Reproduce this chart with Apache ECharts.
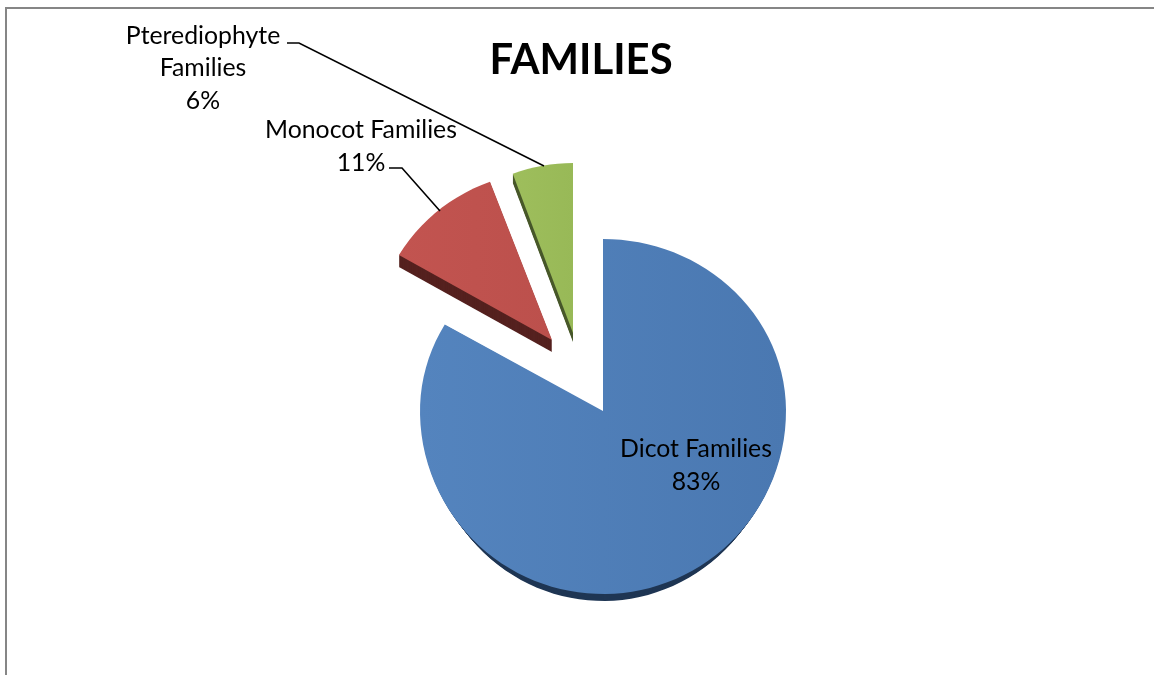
<!DOCTYPE html>
<html>
<head>
<meta charset="utf-8">
<style>html,body{margin:0;padding:0;background:#fff}#chart{width:1154px;height:675px}</style>
<script src="https://cdn.jsdelivr.net/npm/echarts@6/dist/echarts.min.js"></script>
</head>
<body>
<div id="chart"></div>
<script>
const categories = ['Dicot Families', 'Monocot Families', 'Pterediophyte\nFamilies'];
const shares = [83, 11, 6];

// Tilted pie geometry: each wedge has its own apex once pulled out of the pie.
const wedges = [
  { apex: [603, 411], rx: 183, top: 172, bottom: 183, depth: 7, taper: 1,
    face: ['#5484BE', '#4A78B1'], side: '#1F3654',
    label: [696, 465.5], leader: null },
  { apex: [552, 340], rx: 177, top: 169, bottom: 175, depth: 12, taper: 0,
    face: ['#C25450', '#BC504C'], side: '#55211F',
    label: [361, 146.5], leader: [[389, 168], [402, 168], [440, 211]] },
  { apex: [573, 333], rx: 172, top: 170, bottom: 170, depth: 9, taper: 0,
    face: ['#9EBE5C', '#98B957'], side: '#48582A',
    label: [203, 68.5], leader: [[287, 43], [299, 43], [544, 166]] }
];

// Viewing the disc at a tilt pulls the apparent angles slightly toward the vertical axis.
const TILT_SKEW = 0.028;
const total = shares.reduce((a, b) => a + b, 0);

function wedgeOutline(w, from, to, dy) {
  const pts = [[w.apex[0], w.apex[1] + dy]];
  const steps = Math.max(8, Math.round((to - from) * 120));
  const rx = w.rx - dy * w.taper;
  for (let i = 0; i <= steps; i++) {
    const a = (from + (to - from) * i / steps) * Math.PI * 2;
    const t = a - TILT_SKEW * Math.sin(2 * a);
    const c = Math.cos(t);
    pts.push([
      w.apex[0] + rx * Math.sin(t),
      w.apex[1] - (c > 0 ? w.top : w.bottom) * c + dy
    ]);
  }
  return pts;
}

function renderWedge(params, api) {
  const i = params.dataIndex;
  const w = wedges[i];
  let before = 0;
  for (let k = 0; k < i; k++) before += shares[k];
  const from = before / total;
  const to = (before + api.value(0)) / total;
  const children = [];
  for (let d = w.depth; d >= 1; d--) {
    children.push({
      type: 'polygon',
      shape: { points: wedgeOutline(w, from, to, d) },
      style: { fill: w.side }
    });
  }
  children.push({
    type: 'polygon',
    shape: { points: wedgeOutline(w, from, to, 0) },
    style: {
      fill: new echarts.graphic.LinearGradient(0, 0, 1, 0, [
        { offset: 0, color: w.face[0] },
        { offset: 1, color: w.face[1] }
      ])
    }
  });
  if (w.leader) {
    children.push({
      type: 'polyline',
      shape: { points: w.leader },
      style: { fill: null, stroke: '#000', lineWidth: 1.6 }
    });
  }
  children.push({
    type: 'text',
    style: {
      x: w.label[0],
      y: w.label[1],
      text: categories[i] + '\n' + shares[i] + '%',
      fill: '#000',
      font: '24.8px Lato, sans-serif',
      lineHeight: 32.5,
      align: 'center',
      verticalAlign: 'middle'
    }
  });
  return { type: 'group', children };
}

const chart = echarts.init(document.getElementById('chart'), null, { renderer: 'canvas' });
chart.setOption({
  animation: false,
  backgroundColor: '#fff',
  title: {
    text: 'FAMILIES',
    left: 576,
    top: 56,
    textAlign: 'center',
    textVerticalAlign: 'middle',
    textStyle: { fontFamily: 'Lato, sans-serif', fontWeight: 'bold', fontSize: 41.8, color: '#000' }
  },
  graphic: [
    { type: 'rect', shape: { x: 5, y: 7, width: 1149, height: 2 }, style: { fill: '#868686' } },
    { type: 'rect', shape: { x: 5, y: 7, width: 2, height: 668 }, style: { fill: '#868686' } }
  ],
  series: [{
    type: 'custom',
    coordinateSystem: 'none',
    silent: true,
    data: shares.map((v, i) => ({ name: categories[i], value: [v] })),
    renderItem: renderWedge
  }]
});
</script>
</body>
</html>
